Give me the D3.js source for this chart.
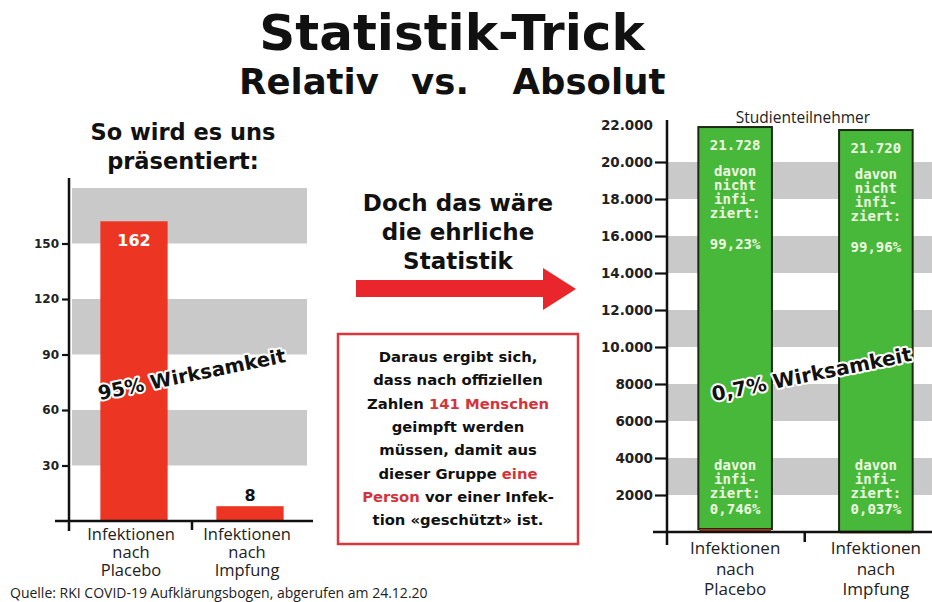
<!DOCTYPE html>
<html>
<head>
<meta charset="utf-8">
<script src="https://cdn.jsdelivr.net/npm/d3@7"></script>
<style>
  html, body { margin: 0; padding: 0; background: #fff; }
  svg { display: block; }
  .bold { font-family: "DejaVu Sans", Verdana, sans-serif; font-weight: bold; }
  .tick-label { font-family: "DejaVu Sans", Verdana, sans-serif; font-weight: bold; fill: #222; }
  .cat { font-family: "Open Sans", "Noto Sans", sans-serif; fill: #222; }
  .mono { font-family: "DejaVu Sans Mono", monospace; font-weight: bold; fill: #eef8e0; }
  .halo { paint-order: stroke; stroke: #fff; stroke-width: 4px; stroke-linejoin: round; }
</style>
</head>
<body>
<svg id="chart" width="932" height="602"></svg>
<script>
// Data
var categories = ['Placebo', 'Impfung'];
var categoryLabels = [['Infektionen', 'nach', 'Placebo'], ['Infektionen', 'nach', 'Impfung']];
var relativeValues = [162, 8];
var relativeTicks = [30, 60, 90, 120, 150];
var relativeBands = [[30, 60], [90, 120], [150, 180]];

var notInfected = [21728, 21720];
var infected = [162, 8];
var shareNotInfected = ['99,23%', '99,96%'];
var shareInfected = ['0,746%', '0,037%'];
var absoluteTicks = [2000, 4000, 6000, 8000, 10000, 12000, 14000, 16000, 18000, 20000, 22000];
var absoluteBands = [[2000, 4000], [6000, 8000], [10000, 12000], [14000, 16000], [18000, 20000]];

var boxLines = [
    [['Daraus ergibt sich,', false]],
    [['dass nach offiziellen', false]],
    [['Zahlen ', false], ['141 Menschen', true]],
    [['geimpft werden', false]],
    [['müssen, damit aus', false]],
    [['dieser Gruppe ', false], ['eine', true]],
    [['Person', true], [' vor einer Infek-', false]],
    [['tion «geschützt» ist.', false]]
];

var red = '#ec3523';
var green = '#48b83b';
var gray = '#c9c9c9';
var ink = '#111';
var textRed = '#d3343b';

var de = d3.formatLocale({ decimal: ',', thousands: '.', grouping: [3], currency: ['', '€'] });
var fmtThousands = de.format(',');

var svg = d3.select('#chart');

/* Titles */
svg.append('text').attr('class', 'bold').attr('x', 452).attr('y', 50)
    .attr('text-anchor', 'middle').style('font-size', '50px').attr('fill', ink)
    .text('Statistik-Trick');

[['Relativ', 309], ['vs.', 440], ['Absolut', 589]].forEach(function(d) {
    svg.append('text').attr('class', 'bold').attr('x', d[1]).attr('y', 94)
        .attr('text-anchor', 'middle').style('font-size', '35.5px').attr('fill', ink)
        .text(d[0]);
});

/* Left chart: relative view */
var yL = d3.scaleLinear().domain([0, 180]).range([521, 188]);
var xL = d3.scaleBand().domain(categories).range([76, 308])
    .paddingInner(0.42).paddingOuter(0.21);

var left = svg.append('g');

left.selectAll('rect.band')
    .data(relativeBands)
    .join('rect')
    .attr('class', 'band')
    .attr('x', 72)
    .attr('width', 307 - 72)
    .attr('y', function(d) { return yL(d[1]); })
    .attr('height', function(d) { return yL(d[0]) - yL(d[1]); })
    .attr('fill', gray);

left.selectAll('rect.bar')
    .data(relativeValues)
    .join('rect')
    .attr('class', 'bar')
    .attr('x', function(d, i) { return xL(categories[i]); })
    .attr('width', xL.bandwidth())
    .attr('y', function(d) { return yL(d); })
    .attr('height', function(d) { return yL(0) - yL(d); })
    .attr('fill', red);

left.selectAll('text.value')
    .data(relativeValues)
    .join('text')
    .attr('class', 'value bold')
    .attr('x', function(d, i) { return xL(categories[i]) + xL.bandwidth() / 2; })
    .attr('y', function(d) { return d > 50 ? yL(d) + 25 : yL(d) - 5; })
    .attr('text-anchor', 'middle')
    .style('font-size', '16px')
    .attr('fill', function(d) { return d > 50 ? '#fff' : ink; })
    .text(function(d) { return d; });

var axisL = d3.axisLeft(yL).tickValues(relativeTicks).tickSize(7).tickPadding(3);
var gAxisL = left.append('g').attr('transform', 'translate(69,0)').call(axisL);
gAxisL.select('.domain').remove();
gAxisL.selectAll('line').attr('stroke', ink).attr('stroke-width', 2.2);
gAxisL.selectAll('text').attr('class', 'tick-label').style('font-size', '12px')
    .attr('font-family', null);

left.append('line').attr('x1', 69).attr('x2', 69).attr('y1', 178).attr('y2', 531)
    .attr('stroke', ink).attr('stroke-width', 2.5);
left.append('line').attr('x1', 55).attr('x2', 313).attr('y1', yL(0)).attr('y2', yL(0))
    .attr('stroke', ink).attr('stroke-width', 2.5);
left.append('line').attr('x1', xL.range()[0] + xL.step()).attr('x2', xL.range()[0] + xL.step())
    .attr('y1', yL(0)).attr('y2', yL(0) + 9)
    .attr('stroke', ink).attr('stroke-width', 2.5);

left.selectAll('text.cat')
    .data(categoryLabels)
    .join('text')
    .attr('class', 'cat')
    .attr('text-anchor', 'middle')
    .style('font-size', '16.5px')
    .attr('transform', function(d, i) {
        return 'translate(' + (xL(categories[i]) + xL.bandwidth() / 2 - 3) + ',' + (yL(0) + 19) + ')';
    })
    .selectAll('tspan')
    .data(function(d) { return d; })
    .join('tspan')
    .attr('x', 0)
    .attr('dy', function(d, i) { return i === 0 ? 0 : 18; })
    .text(function(d) { return d; });

left.append('text').attr('class', 'bold halo').attr('fill', ink)
    .attr('text-anchor', 'middle').style('font-size', '19.5px')
    .attr('transform', 'translate(193,381) rotate(-11.5)')
    .text('95% Wirksamkeit');

['So wird es uns', 'präsentiert:'].forEach(function(t, i) {
    svg.append('text').attr('class', 'bold').attr('x', 183).attr('y', 140 + i * 29)
        .attr('text-anchor', 'middle').style('font-size', '22.5px').attr('fill', ink)
        .text(t);
});

/* Middle: claim and arrow */
['Doch das wäre', 'die ehrliche', 'Statistik'].forEach(function(t, i) {
    svg.append('text').attr('class', 'bold').attr('x', 458).attr('y', 211 + i * 29)
        .attr('text-anchor', 'middle').style('font-size', '23px').attr('fill', ink)
        .text(t);
});

svg.append('path')
    .attr('d', 'M356,280 L543,280 L543,268 L576,289 L543,310 L543,297 L356,297 Z')
    .attr('fill', '#e8262b');

svg.append('rect').attr('x', 338).attr('y', 334).attr('width', 240).attr('height', 210)
    .attr('fill', '#fff').attr('stroke', '#d8373d').attr('stroke-width', 2.5);

svg.append('g').selectAll('text')
    .data(boxLines)
    .join('text')
    .attr('class', 'bold')
    .attr('x', 458)
    .attr('y', function(d, i) { return 362 + i * 23.3; })
    .attr('text-anchor', 'middle')
    .style('font-size', '14.8px')
    .selectAll('tspan')
    .data(function(d) { return d; })
    .join('tspan')
    .attr('fill', function(d) { return d[1] ? textRed : ink; })
    .style('white-space', 'pre')
    .text(function(d) { return d[0]; });

/* Right chart: absolute view */
var yR = d3.scaleLinear().domain([0, 22000]).range([532, 125]);
var xR = d3.scaleBand().domain(categories).range([664, 947])
    .paddingInner(0.477).paddingOuter(0.244);

var right = svg.append('g');

right.selectAll('rect.band')
    .data(absoluteBands)
    .join('rect')
    .attr('class', 'band')
    .attr('x', 667)
    .attr('width', 932 - 667)
    .attr('y', function(d) { return yR(d[1]); })
    .attr('height', function(d) { return yR(d[0]) - yR(d[1]); })
    .attr('fill', gray);

var stacked = categories.map(function(c, i) {
    return { cat: c, infected: infected[i], notInfected: notInfected[i],
             total: infected[i] + notInfected[i], i: i };
});

right.selectAll('rect.bar')
    .data(stacked)
    .join('rect')
    .attr('class', 'bar')
    .attr('x', function(d) { return xR(d.cat); })
    .attr('width', xR.bandwidth())
    .attr('y', function(d) { return yR(d.total); })
    .attr('height', function(d) { return yR(d.infected) - yR(d.total); })
    .attr('fill', green)
    .attr('stroke', '#1c2a14')
    .attr('stroke-width', 2);

right.selectAll('rect.inf')
    .data(stacked)
    .join('rect')
    .attr('class', 'inf')
    .attr('x', function(d) { return xR(d.cat) + 1; })
    .attr('width', xR.bandwidth() - 2)
    .attr('y', function(d) { return yR(d.infected); })
    .attr('height', function(d) { return Math.max(yR(0) - yR(d.infected), 1.5); })
    .attr('fill', '#a8321c');

var barTexts = right.selectAll('g.bartext')
    .data(stacked)
    .join('g')
    .attr('class', 'bartext')
    .attr('transform', function(d) {
        return 'translate(' + (xR(d.cat) + xR.bandwidth() / 2) + ',0)';
    });

barTexts.each(function(d) {
    var g = d3.select(this);
    var top = yR(d.total);
    var lines = [
        [fmtThousands(d.notInfected), top + 23],
        ['davon', top + 49], ['nicht', top + 63], ['infi-', top + 77], ['ziert:', top + 91],
        [shareNotInfected[d.i], top + 122],
        ['davon', yR(0) - 62], ['infi-', yR(0) - 48], ['ziert:', yR(0) - 34],
        [shareInfected[d.i], yR(0) - 18]
    ];
    g.selectAll('text')
        .data(lines)
        .join('text')
        .attr('class', 'mono')
        .attr('text-anchor', 'middle')
        .style('font-size', '14px')
        .attr('y', function(l) { return l[1]; })
        .text(function(l) { return l[0]; });
});

var axisR = d3.axisLeft(yR).tickValues(absoluteTicks)
    .tickSize(0).tickPadding(14)
    .tickFormat(function(d) { return d >= 10000 ? fmtThousands(d) : String(d); });
var gAxisR = right.append('g').attr('transform', 'translate(667,0)').call(axisR);
gAxisR.select('.domain').remove();
gAxisR.selectAll('.tick').append('line')
    .attr('x2', function(d) { return d < 22000 ? -12 : 0; })
    .attr('stroke', ink).attr('stroke-width', 2.2);
gAxisR.selectAll('text').attr('class', 'tick-label').style('font-size', '13.5px')
    .attr('font-family', null);

right.append('line').attr('x1', 667).attr('x2', 667).attr('y1', 120).attr('y2', 545)
    .attr('stroke', ink).attr('stroke-width', 2.5);
right.append('line').attr('x1', 653).attr('x2', 932).attr('y1', yR(0)).attr('y2', yR(0))
    .attr('stroke', ink).attr('stroke-width', 2.5);
right.append('line').attr('x1', xR.range()[0] + xR.step()).attr('x2', xR.range()[0] + xR.step())
    .attr('y1', yR(0)).attr('y2', yR(0) + 10)
    .attr('stroke', ink).attr('stroke-width', 2.5);

right.selectAll('text.cat')
    .data(categoryLabels)
    .join('text')
    .attr('class', 'cat')
    .attr('text-anchor', 'middle')
    .style('font-size', '17px')
    .attr('transform', function(d, i) {
        return 'translate(' + (xR(categories[i]) + xR.bandwidth() / 2) + ',' + (yR(0) + 22) + ')';
    })
    .selectAll('tspan')
    .data(function(d) { return d; })
    .join('tspan')
    .attr('x', 0)
    .attr('dy', function(d, i) { return i === 0 ? 0 : 20.5; })
    .text(function(d) { return d; });

right.append('text').attr('class', 'cat').attr('x', 803).attr('y', 123)
    .attr('text-anchor', 'middle').style('font-size', '15.5px')
    .text('Studienteilnehmer');

right.append('text').attr('class', 'bold halo').attr('fill', ink)
    .attr('text-anchor', 'middle').style('font-size', '20px')
    .attr('transform', 'translate(813,381) rotate(-11.5)')
    .text('0,7% Wirksamkeit');

/* Source */
svg.append('text').attr('class', 'cat').attr('x', 10).attr('y', 598)
    .style('font-size', '14px')
    .text('Quelle: RKI COVID-19 Aufklärungsbogen, abgerufen am 24.12.20');
</script>
</body>
</html>
